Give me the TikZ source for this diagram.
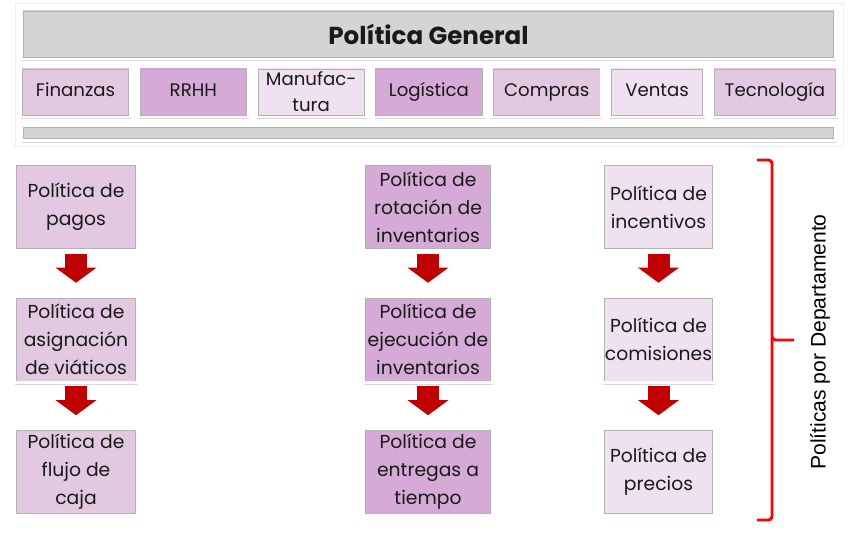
\documentclass[tikz,border=0pt]{standalone}
\usepackage{fontspec}
\setmainfont{Poppins}
\newfontfamily\bracefont{Liberation Sans}
\usetikzlibrary{positioning, shadows, arrows.meta, fit, backgrounds}
\definecolor{polGray}{RGB}{212,212,212}
\definecolor{polLight}{RGB}{239,225,239}
\definecolor{polMid}{RGB}{227,200,226}
\definecolor{polDark}{RGB}{214,170,214}
\definecolor{polRed}{RGB}{192,0,0}
\definecolor{braceRed}{RGB}{255,0,0}

\tikzset{
  bevel/.style={path picture={\draw[black!30, line width=0.6pt]
      ([xshift=1.6pt,yshift=-1.6pt]path picture bounding box.north west) rectangle
      ([xshift=-1.6pt,yshift=1.6pt]path picture bounding box.south east);}},
  flatbox/.style={rectangle, draw=white, line width=2.4pt, bevel, text=black!90,
      drop shadow={opacity=0.3, shadow xshift=0.5pt, shadow yshift=-1.8pt}},
}

\begin{document}
\begin{tikzpicture}[
        x=0.03cm, y=-0.03cm,
        node distance=1.29cm and 0.15cm,
        font=\fontsize{16}{24}\selectfont,
        graybar/.style={flatbox, fill=polGray, minimum width=24.4cm},
        deptbox/.style={flatbox, minimum height=1.5cm, inner sep=1pt, align=center,
            font=\fontsize{15.5}{22}\selectfont, text height=2ex, text depth=0.6ex},
        polbox/.style={flatbox, minimum height=2.6cm, align=center, inner sep=2pt},
        redarrow/.style={draw=polRed, line width=0.66cm, shorten <=0.06cm, shorten >=0.36cm,
            -{Triangle[width=1.2cm, length=0.45cm]}},
        bracered/.style={draw=braceRed, line width=2.5pt, rounded corners=3pt}
    ]
        \useasboundingbox (0,0) rectangle (852,542);

        % Politica general
        \node[graybar, minimum height=1.5cm, font=\fontsize{21}{24}\selectfont\bfseries] (general) at (428.5,34) {Política General};

        % Departamentos
        \node[deptbox, fill=polMid, minimum width=3.3cm] (finanzas) at (75.5,92) {Finanzas};
        \node[deptbox, fill=polDark, minimum width=3.3cm, right=of finanzas] (rrhh) {RRHH};
        \node[deptbox, fill=polLight, minimum width=3.3cm, right=of rrhh, text height={}, text depth={}, inner sep=0pt] (manufactura) {Manufac-\\tura};
        \node[deptbox, fill=polDark, minimum width=3.3cm, right=of manufactura] (logistica) {Logística};
        \node[deptbox, fill=polMid, minimum width=3.3cm, right=of logistica] (compras) {Compras};
        \node[deptbox, fill=polLight, minimum width=2.85cm, right=of compras] (ventas) {Ventas};
        \node[deptbox, fill=polMid, minimum width=3.75cm, right=of ventas] (tecnologia) {Tecnología};

        \node[graybar, minimum height=0.45cm] (barra) at (428.5,133) {};

        \begin{scope}[on background layer]
            \node[fit=(general)(barra)(finanzas)(tecnologia), inner sep=0.12cm, fill=white, draw=black!6,
                drop shadow={opacity=0.2, shadow xshift=1pt, shadow yshift=-1pt}] (marco) {};
        \end{scope}

        % Finanzas
        \node[polbox, fill=polMid, minimum width=3.7cm] (pagos) at (76,207) {Política de\\pagos};
        \node[polbox, fill=polMid, minimum width=3.7cm, below=of pagos] (viaticos) {Política de\\asignación\\de viáticos};
        \node[polbox, fill=polMid, minimum width=3.7cm, below=of viaticos] (flujo) {Política de\\flujo de\\caja};

        % Logistica
        \node[polbox, fill=polDark, minimum width=3.85cm] (rotacion) at (428,207) {Política de\\rotación de\\inventarios};
        \node[polbox, fill=polDark, minimum width=3.85cm, below=of rotacion] (ejecucion) {Política de\\ejecución de\\inventarios};
        \node[polbox, fill=polDark, minimum width=3.85cm, below=of ejecucion] (entregas) {Política de\\entregas a\\tiempo};

        % Ventas
        \node[polbox, fill=polLight, minimum width=3.35cm] (incentivos) at (658.5,207) {Política de\\incentivos};
        \node[polbox, fill=polLight, minimum width=3.35cm, below=of incentivos] (comisiones) {Política de\\comisiones};
        \node[polbox, fill=polLight, minimum width=3.35cm, below=of comisiones] (precios) {Política de\\precios};

        \draw[redarrow] (pagos) -- (viaticos);
        \draw[redarrow] (viaticos) -- (flujo);
        \draw[redarrow] (rotacion) -- (ejecucion);
        \draw[redarrow] (ejecucion) -- (entregas);
        \draw[redarrow] (incentivos) -- (comisiones);
        \draw[redarrow] (comisiones) -- (precios);

        % Llave
        \draw[bracered] (757,160) -| (772,340) -- (794,340);
        \draw[bracered] (772,338) |- (757,520);
        \node[rotate=90, font=\bracefont\fontsize{18}{20}\selectfont] (departamentos) at (820,342) {Políticas por Departamento};
    \end{tikzpicture}
\end{document}
